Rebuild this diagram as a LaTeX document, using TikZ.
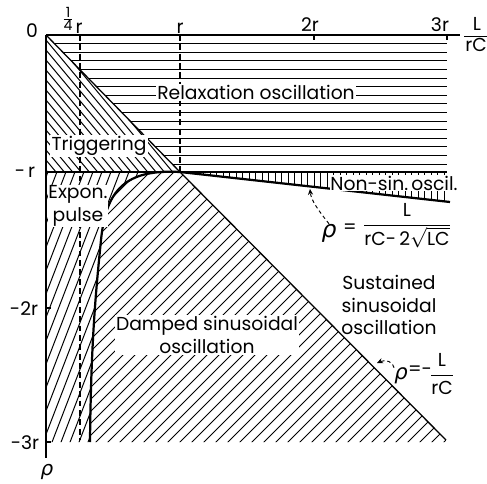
\documentclass[tikz,border=0pt]{standalone}
\usepackage{fontspec}
\setmainfont{Poppins}
\newfontfamily\rhofont{DejaVu Sans}
\usetikzlibrary{arrows.meta}
\newcommand\lblfont{\fontsize{16}{19}\selectfont}
\newcommand\smlfont{\fontsize{12}{12}\selectfont}
\newcommand\rhoA{{\rhofont\itshape ρ}}
\newcommand\expcurve{(180,172) .. controls (125,169) and (106,190) .. (101,240) .. controls (96,290) and (91,340) .. (90,442)}
\begin{document}
\begin{tikzpicture}[x=0.03cm,y=-0.03cm,
  hatch/.style={line width=0.85pt},
  axisline/.style={line width=1.1pt},
  boldline/.style={line width=1.9pt},
  dashline/.style={line width=0.9pt, dash pattern=on 5pt off 3pt},
  lbl/.style={font=\lblfont, fill=white, inner sep=1pt},
  ticklbl/.style={font=\lblfont, inner sep=0pt},
  dasharrow/.style={line width=0.8pt, dash pattern=on 3pt off 2.5pt, -{Stealth[length=5pt,width=4.5pt]}}]
\useasboundingbox (0,0) rectangle (487,483);
\fill[white] (0,0) rectangle (487,483);

% Relaxation (horizontal lines)
\begin{scope}
\clip (46,35) -- (447,35) -- (447,172) -- (180,172) -- cycle;
\foreach \k in {1,...,15} \draw[hatch] (46,35+8.6*\k) -- (447,35+8.6*\k);
\end{scope}
% Triggering
\begin{scope}
\clip (46,35) -- (180,172) -- (46,172) -- cycle;
\foreach \c in {-200,-190,...,180} \draw[hatch] (46,\c) -- ++(150,180);
\end{scope}
% Non-sinusoidal
\begin{scope}
\clip (180,172) -- (450,172) -- (450,202) -- cycle;
\foreach \x in {184,190.5,...,452} \draw[hatch] (\x,168) -- (\x,210);
\end{scope}
% Exponential pulse
\begin{scope}
\clip (46,172) -- \expcurve -- (46,442) -- cycle;
\foreach \c in {-140,-131,...,200} \draw[hatch] (\c,450) -- ++(120,-312);
\end{scope}
% Damped
\begin{scope}
\clip \expcurve -- (448,442) -- cycle;
\foreach \c in {-320,-308,...,470} \draw[hatch] (\c,450) -- ++(320,-320);
\end{scope}

% main lines
\draw[axisline] (46,35) -- (460,35);
\draw[axisline] (46,35) -- (46,458);
\draw[axisline] (46,172) -- (447,172);
\draw[axisline] (46,35) -- (180,172);
\draw[axisline] (180,172) -- (446,440);
\draw[boldline] \expcurve;
\draw[boldline] (180,172) -- (450,202);
\draw[dashline] (180,35) -- (180,172);
\draw[dashline] (80,35) -- (80,440);
\draw[axisline] (314,35) -- (314,40);
\draw[axisline] (447,35) -- (447,40);
\draw[axisline] (46,308) -- (51,308);
\draw[axisline] (46,442) -- (51,442);

% tick labels
\node[ticklbl] (t0) at (32,31) {0};
\node[ticklbl] (tq) at (68,19) {\smlfont$\frac{\mbox{1}}{\mbox{4}}$};
\node[ticklbl] (tqr) at (79,28) {r};
\node[ticklbl] (tr) at (180,28) {r};
\node[ticklbl] (t2r) at (310,25) {2r};
\node[ticklbl] (t3r) at (440,25) {3r};
\node[ticklbl, anchor=south] (tL) at (477,31) {L};
\node[ticklbl, anchor=north] (trC) at (476,38) {rC};
\draw[line width=0.8pt] (trC.north west) ++(-1,-2) coordinate (fb1) -- (fb1 -| trC.north east);
\node[ticklbl] (tmr) at (25,172) {-\,r};
\node[ticklbl] (tm2r) at (24,309) {-2r};
\node[ticklbl] (tm3r) at (25,443) {-3r};
\node[ticklbl] (trho) at (47,472) {\fontsize{17}{17}\selectfont\rhoA};

% region labels
\node[lbl] (relax) at (256,92) {Relaxation oscillation};
\node[lbl] (trig) at (99,146) {Triggering};
\node[lbl, align=center, inner sep=0.5pt] (expon) at (78,206) {Expon.\\pulse};
\node[lbl, inner sep=0.3pt] (nonsin) at (394,183) {Non-sin.\,oscil.};
\node[lbl, align=center] (damped) at (207,335) {Damped sinusoidal\\oscillation};
\node[ticklbl, align=center] (sust) at (389,305) {Sustained\\sinusoidal\\oscillation};

% formulas
\node[ticklbl] (rho1) at (329,233) {\fontsize{20}{20}\selectfont\rhoA};
\node[ticklbl] (eq1) at (350,229) {=};
\node[ticklbl] (frac1) at (407,226) {$\displaystyle\frac{\mbox{L}}{\mbox{rC-\,2}\sqrt{\mbox{LC}}}$};
\node[ticklbl] (rho2) at (401,376) {\fontsize{18}{18}\selectfont\rhoA};
\node[ticklbl] (eq2) at (420,371) {=-};
\node[ticklbl] (frac2) at (442,374) {$\displaystyle\frac{\mbox{L}}{\mbox{rC}}$};

\coordinate (p1) at (310,189);
\coordinate (p2) at (377,363);
\draw[dasharrow] (rho1.north) .. controls (318,210) and (311,200) .. (p1);
\draw[dasharrow] (rho2.north west) .. controls (393,362) and (386,359) .. (p2);
\end{tikzpicture}
\end{document}
